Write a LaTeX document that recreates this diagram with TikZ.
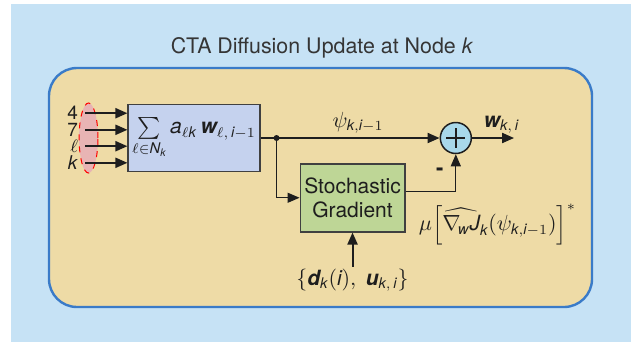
\documentclass[tikz,border=0pt]{standalone}
\usepackage{amsmath}
\usepackage{fontspec}
\setmainfont{TeX Gyre Heros}
\usetikzlibrary{positioning, arrows.meta, shapes.geometric, calc}
\definecolor{panelblue}{RGB}{198,226,245}
\definecolor{woodtan}{RGB}{238,219,166}
\definecolor{frameblue}{RGB}{58,123,200}
\definecolor{sumfill}{RGB}{197,210,238}
\definecolor{gradfill}{RGB}{190,214,150}
\definecolor{addfill}{RGB}{168,216,234}
\definecolor{grpfill}{RGB}{232,180,180}
\definecolor{ink}{RGB}{30,30,30}
\newcommand{\sv}[1]{\text{\itshape #1}}
\newcommand{\bv}[1]{\text{\bfseries\itshape #1}}
\tikzset{
  block/.style={draw=ink!85, line width=0.75pt, align=center, font=\fontsize{10.5}{12}\selectfont, text=ink, inner sep=2pt},
  sumblock/.style={block, fill=sumfill, minimum width=65pt, minimum height=33.5pt},
  gradblock/.style={block, fill=gradfill, minimum width=51.5pt, minimum height=34pt},
  adder/.style={circle, draw=ink, line width=0.75pt, fill=addfill, minimum size=15.5pt, inner sep=0pt},
  grp/.style={ellipse, draw=red, dashed, fill=grpfill, minimum width=9pt, minimum height=35pt, line width=0.5pt},
  panel/.style={draw=frameblue, line width=1.2pt, fill=woodtan, rounded corners=14pt, minimum width=271.5pt, minimum height=119.5pt},
  arr/.style={-{Triangle[length=6pt, width=5pt]}, line width=1pt, draw=ink},
  tarr/.style={arr, line width=0.6pt},
  lbl/.style={font=\fontsize{10.5}{12}\selectfont, text=ink, inner sep=1pt},
  heading/.style={font=\fontsize{10.7}{12}\selectfont, text=ink!90},
  inlbl/.style={font=\fontsize{9.5}{10}\selectfont, text=ink, inner sep=0pt},
  sign/.style={font=\fontsize{11}{12}\selectfont\bfseries, text=ink, inner sep=0pt},
  dot/.style={circle, fill=ink, inner sep=0pt, minimum size=3pt}
}
\begin{document}
\begin{tikzpicture}[x=0.5pt, y=-0.5pt]
\useasboundingbox (0,0) rectangle (640,344);
\fill[panelblue] (11,4) rectangle (631,342);
\node[panel] (wood) at (320.5,187.5) {};
\node[heading] (title) at (322,48) {CTA Diffusion Update at Node \textit{k}};
% combination step
\node[sumblock] (sum) at (194,138) {$\sum\limits_{\ell\in\sv{N}_{\sv{k}}}\sv{a}_{\ell\sv{k}}\,\bv{w}_{\ell,\,\sv{i}-1}$};
\node[grp, left=14.5pt of sum.west] (grp) {};
\foreach \lab/\dy [count=\n] in {4/12.4pt, 7/4.1pt, $\ell$/-4.1pt, \textit{k}/-12.4pt} {
  \coordinate (src\n) at ([shift={(-21pt,\dy)}]sum.west);
  \node[inlbl, left=3.5pt of src\n] (in\n) {\lab};
  \draw[arr] (src\n) -- (src\n -| sum.west);
}
\coordinate[right=8pt of sum] (jn);
\node[adder, right=81.5pt of jn] (add) {};
\draw[line width=0.9pt, ink] ([yshift=4.8pt]add.center) -- ([yshift=-4.8pt]add.center)
  ([xshift=-4.8pt]add.center) -- ([xshift=4.8pt]add.center);
\draw[arr] (sum) -- (add);
\path (jn) -- (add) node[lbl, midway, above=1pt] (psi) {$\psi_{\sv{k},\sv{i}-1}$};
\node[dot] (jdot) at (jn) {};
\coordinate[right=21pt of add] (out);
\draw[arr] (add) -- (out) node[lbl, pos=0.7, above=1pt] (wout) {$\bv{w}_{\sv{k},\,\sv{i}}$};
% adaptation step
\node[gradblock, below right=12.5pt and 11.5pt of jn] (grad) {Stochastic\\Gradient};
\draw[tarr] (jn) |- (grad);
\draw[tarr] ([yshift=3pt]grad.east) -| (add);
\node[sign] (minus) at ($(add.south)+(-16,17)$) {-};
\node[lbl, right=5.5pt of grad.south east, yshift=4pt] (gradlbl) {$\mu\Big[\widehat{\nabla_{\!\sv{w}}\sv{J}}_{\sv{k}}(\psi_{\sv{k},\sv{i}-1})\Big]^{*}$};
\node[lbl, below=17pt of grad] (data) {$\{\bv{d}_{\sv{k}}(\sv{i}),\ \bv{u}_{\sv{k},\,\sv{i}}\}$};
\draw[arr] (data) -- (grad);
\end{tikzpicture}
\end{document}
